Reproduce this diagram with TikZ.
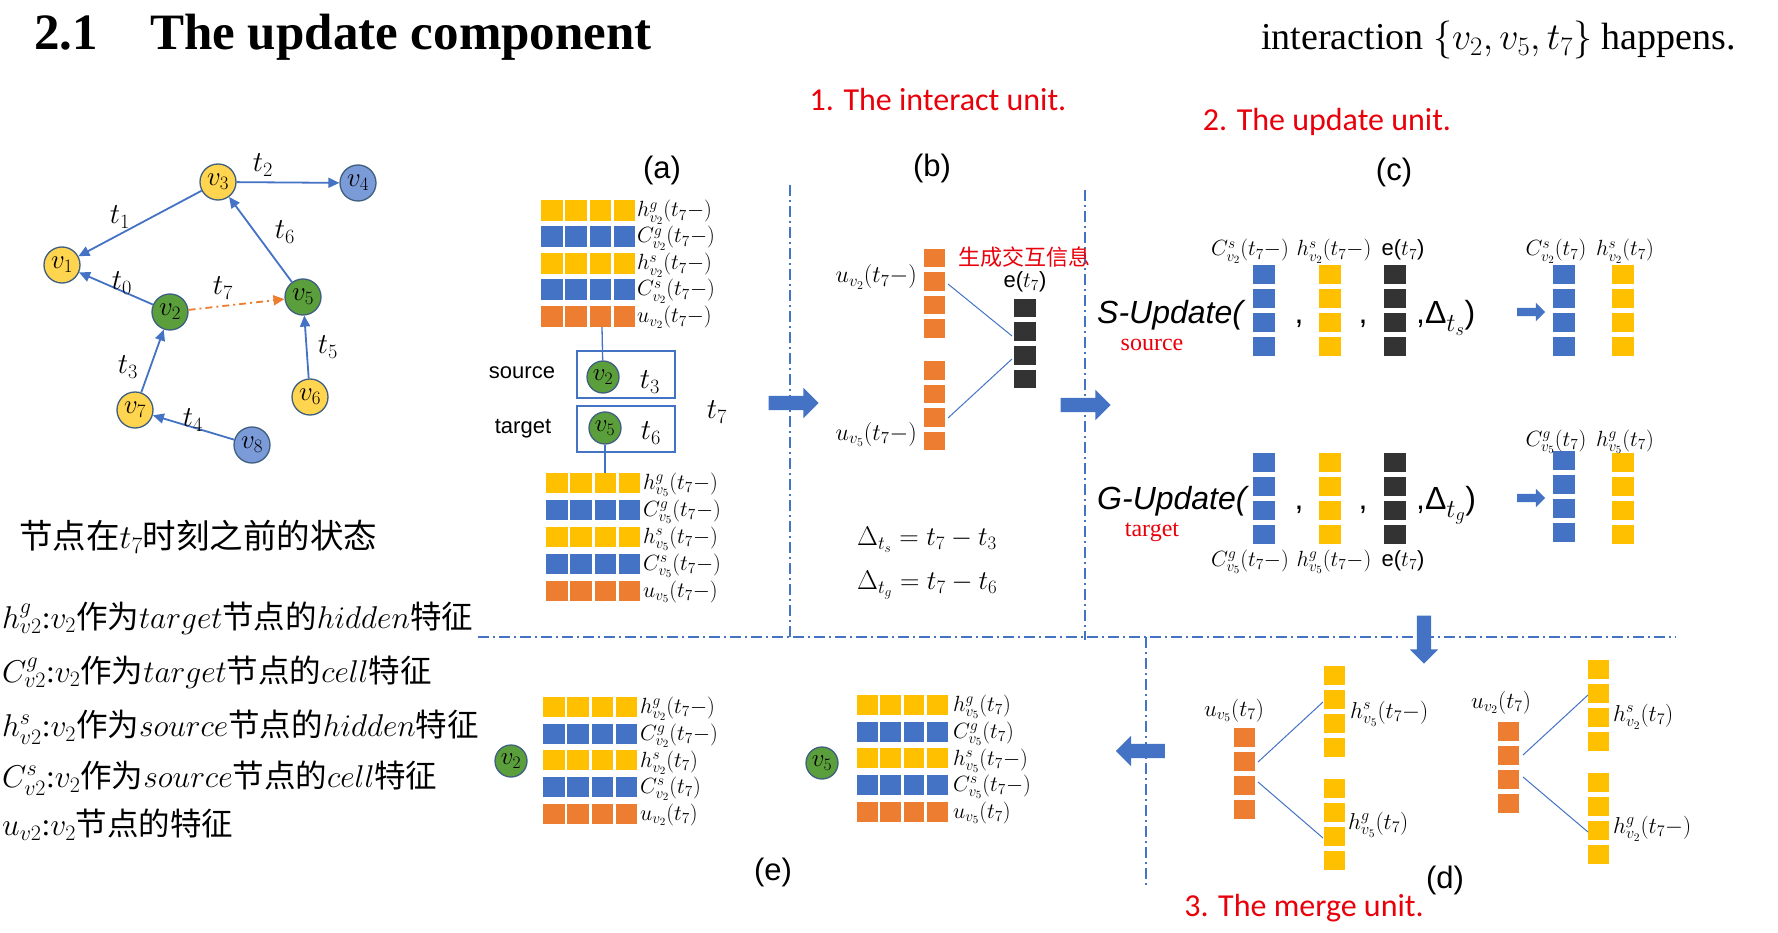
\RequirePackage{fix-cm}
\documentclass[tikz,border=0pt]{standalone}
\usepackage{fontspec}
\setmainfont{Liberation Serif}
\setsansfont{Liberation Sans}
\newfontfamily\cjk{Noto Sans CJK SC}
\newfontfamily\calibri{Carlito}
\usetikzlibrary{arrows.meta,shapes.arrows}
\newcommand\setfs[1]{\fontsize{#1}{#1}\selectfont}
\definecolor{sqy}{HTML}{FFC000}
\definecolor{sqb}{HTML}{4472C4}
\definecolor{sqo}{HTML}{ED7D31}
\definecolor{sqk}{HTML}{333333}
\definecolor{ny}{HTML}{FFD44F}
\definecolor{nb}{HTML}{7A9AD8}
\definecolor{ng}{HTML}{5B9E3C}
\definecolor{nline}{HTML}{3F5F80}
\definecolor{eblue}{HTML}{4472C4}
\definecolor{redtxt}{HTML}{E8000B}
% row of 4 squares: x0, y0, colour, pitch, height
\newcommand\sqrow[5]{\foreach \k in {0,...,3}{\fill[#3] ({#1+\k*#4},{#2}) rectangle ++({#4-2.8},#5);}}
% column of boxes: x, y, colour, n, width, height (pitch = height+5)
\newcommand\sqcol[6]{\foreach \k in {1,...,#4}{\fill[#3] ({#1},{#2+(\k-1)*(#6+5)}) rectangle ++(#5,#6);}}
\tikzset{
 gnode/.style={circle, draw=nline, line width=1.3pt, minimum size=36pt, inner sep=0pt, font=\setfs{27}},
 ynode/.style={gnode, fill=ny},
 bnode/.style={gnode, fill=nb},
 grnode/.style={gnode, fill=ng},
 smallgr/.style={gnode, fill=ng, minimum size=32pt, font=\setfs{25}},
 gedge/.style={draw=eblue, line width=1.8pt, -{Triangle[length=11pt,width=10pt]}},
 tedge/.style={draw=sqo, line width=1.8pt, dash pattern=on 7pt off 4pt on 2pt off 4pt, -{Triangle[length=11pt,width=10pt]}},
 tlab/.style={font=\setfs{29}, inner sep=0pt},
 lab/.style={font=\setfs{22}, inner sep=0pt, anchor=base west},
 clab/.style={font=\setfs{22}, inner sep=0pt, anchor=base},
 divider/.style={draw=eblue, line width=1.3pt, dash pattern=on 11pt off 4pt on 2pt off 4pt},
 link/.style={draw=eblue, line width=1.3pt},
 barrow/.style={single arrow, fill=eblue, draw=none, inner xsep=0pt, inner ysep=7pt, single arrow head extend=8pt, single arrow head indent=0pt, minimum height=50pt},
 varrow/.style={single arrow, fill=eblue, draw=none, inner xsep=7pt, inner ysep=0pt, single arrow head extend=7pt, single arrow head indent=0pt, shape border rotate=270, minimum height=48pt},
 sarrow/.style={barrow, inner ysep=4pt, single arrow head extend=5pt, minimum height=28pt},
 redhead/.style={font=\calibri\setfs{32}, text=redtxt, inner sep=0pt},
 panel/.style={font=\sffamily\setfs{31}, inner sep=0pt},
 sans/.style={font=\sffamily\setfs{22}, inner sep=0pt},
 desc/.style={font=\setfs{31.5}, inner sep=0pt, anchor=west},
 upd/.style={font=\sffamily\itshape\setfs{32}, inner sep=0pt, anchor=base west},
 comma/.style={font=\sffamily\setfs{32}, inner sep=0pt, anchor=base},
 redser/.style={font=\setfs{24}, text=redtxt, inner sep=0pt},
}
\begin{document}
\begin{tikzpicture}[x=1pt,y=-1pt]
\useasboundingbox (0,0) rectangle (1778,933);
\fill[white] (0,0) rectangle (1778,933);

% ---------- title ----------
\node[anchor=base west, font=\bfseries\setfs{51}, inner sep=0pt] (secnum) at (34,50) {2.1};
\node[anchor=base west, font=\bfseries\setfs{51}, inner sep=0pt] (title) at (150,50) {The update component};
\node[anchor=base west, font=\setfs{38}, inner sep=0pt] (interaction) at (1261,50) {interaction $\{v_2, v_5, t_7\}$ happens.};

% ---------- graph ----------
\node[ynode] (v3) at (218,182) {$v_3$};
\node[bnode] (v4) at (358,183) {$v_4$};
\node[ynode] (v1) at (62,265) {$v_1$};
\node[grnode] (v2) at (170,312) {$v_2$};
\node[grnode] (v5) at (303,297) {$v_5$};
\node[ynode] (v6) at (310,397) {$v_6$};
\node[ynode] (v7) at (135,410) {$v_7$};
\node[bnode] (v8) at (252,445) {$v_8$};
\draw[gedge] (v3) -- (v1);
\draw[gedge] (v3) -- (v4);
\draw[gedge] (v2) -- (v1);
\draw[gedge] (v5) -- (v3);
\draw[gedge] (v6) -- (v5);
\draw[gedge] (v7) -- (v2);
\draw[gedge] (v8) -- (v7);
\draw[tedge] (v2) -- (v5);
\node[tlab] (lt2) at (263,165) {$t_2$};
\node[tlab] (lt1) at (120,217) {$t_1$};
\node[tlab] (lt6) at (285,232) {$t_6$};
\node[tlab] (lt0) at (122,283) {$t_0$};
\node[tlab] (lt7) at (223,288) {$t_7$};
\node[tlab] (lt5) at (328,347) {$t_5$};
\node[tlab] (lt3) at (128,367) {$t_3$};
\node[tlab] (lt4) at (193,420) {$t_4$};

% ---------- left description ----------
\node[font=\cjk\setfs{33.5}, anchor=west, inner sep=0pt] (state) at (19,537) {节点在$t_7$时刻之前的状态};
\node[desc] (d1) at (2,618) {$h^g_{v2}$:$v_2${\cjk 作为}$target${\cjk 节点的}$hidden${\cjk 特征}};
\node[desc] (d2) at (2,672) {$C^g_{v2}$:$v_2${\cjk 作为}$target${\cjk 节点的}$cell${\cjk 特征}};
\node[desc] (d3) at (2,727) {$h^s_{v2}$:$v_2${\cjk 作为}$source${\cjk 节点的}$hidden${\cjk 特征}};
\node[desc] (d4) at (2,778) {$C^s_{v2}$:$v_2${\cjk 作为}$source${\cjk 节点的}$cell${\cjk 特征}};
\node[desc] (d5) at (2,825) {$u_{v2}$:$v_2${\cjk 节点的特征}};

% ---------- dividers ----------
\coordinate (dv1a) at (790,185); \coordinate (dv1b) at (790,637);
\coordinate (dv2a) at (1085,190); \coordinate (dv2b) at (1085,640);
\coordinate (dha) at (478,637); \coordinate (dhb) at (1676,637);
\coordinate (dv3a) at (1146,637); \coordinate (dv3b) at (1146,887);
\draw[divider] (dv1a) -- (dv1b);
\draw[divider] (dv2a) -- (dv2b);
\draw[divider] (dha) -- (dhb);
\draw[divider] (dv3a) -- (dv3b);

% ---------- panel (a) ----------
\node[panel] (pa) at (662,170) {(a)};
\foreach \c [count=\r from 0] in {sqy,sqb,sqy,sqb,sqo}{\sqrow{541}{200+\r*26.5}{\c}{24.3}{21}}
\node[lab] (a1) at (637,217) {$h^g_{v_2}(t_7-)$};
\node[lab] (a2) at (637,243) {$C^g_{v_2}(t_7-)$};
\node[lab] (a3) at (637,270) {$h^s_{v_2}(t_7-)$};
\node[lab] (a4) at (637,296) {$C^s_{v_2}(t_7-)$};
\node[lab] (a5) at (637,323) {$u_{v_2}(t_7-)$};
\node[draw=eblue, line width=1.5pt, minimum width=98pt, minimum height=47pt, inner sep=0pt] (srcbox) at (626,374.5) {};
\node[draw=eblue, line width=1.5pt, minimum width=98pt, minimum height=46pt, inner sep=0pt] (tgtbox) at (626,429) {};
\node[smallgr] (sv2) at (603,377) {$v_2$};
\node[smallgr] (sv5) at (605,428) {$v_5$};
\node[tlab] (st3) at (650,382) {$t_3$};
\node[tlab] (st6) at (651,433) {$t_6$};
\node[tlab] (st7) at (717,412) {$t_7$};
\node[sans] (srcl) at (522,373) {source};
\node[sans] (tgtl) at (523,429) {target};
\coordinate (atop) at (602,327);
\coordinate (abot) at (605,473);
\draw[link] (atop) -- (sv2);
\draw[link] (sv5) -- (abot);
\foreach \c [count=\r from 0] in {sqy,sqb,sqy,sqb,sqo}{\sqrow{546}{473+\r*27}{\c}{24.3}{20}}
\node[lab] (b1) at (643,489) {$h^g_{v_5}(t_7-)$};
\node[lab] (b2) at (643,516) {$C^g_{v_5}(t_7-)$};
\node[lab] (b3) at (643,543) {$h^s_{v_5}(t_7-)$};
\node[lab] (b4) at (643,570) {$C^s_{v_5}(t_7-)$};
\node[lab] (b5) at (643,597) {$u_{v_5}(t_7-)$};

% ---------- arrows between panels ----------
\node[barrow] (arr1) at (790,403) {};
\node[barrow] (arr2) at (1082,405) {};
\node[varrow] (arr3) at (1424,636) {};
\node[barrow, shape border rotate=180, minimum height=49pt] (arr4) at (1144,751) {};

% ---------- panel (b) ----------
\node[redhead] (h1) at (938,100) {1. The interact unit.};
\node[panel] (pb) at (932,168) {(b)};
\sqcol{924}{249}{sqo}{4}{21}{18.5}
\sqcol{924}{361}{sqo}{4}{21}{18.5}
\sqcol{1014}{299}{sqk}{4}{22}{18.5}
\node[lab, font=\setfs{24}, anchor=base east] (bu2) at (917,283) {$u_{v_2}(t_7-)$};
\node[lab, font=\setfs{24}, anchor=base east] (bu5) at (917,440) {$u_{v_5}(t_7-)$};
\node[font=\cjk\setfs{22}, text=redtxt, anchor=west, inner sep=0pt] (gen) at (958,257) {生成交互信息};
\node[sans] (be) at (1025,282) {e($t_7$)};
\coordinate (bo1) at (948,284); \coordinate (bk1) at (1012,336);
\coordinate (bo2) at (948,418); \coordinate (bk2) at (1012,359);
\draw[link, line width=1pt] (bo1) -- (bk1);
\draw[link, line width=1pt] (bo2) -- (bk2);
\node[font=\setfs{27}, anchor=west, inner sep=0pt] (dts) at (857,540) {$\Delta_{t_s}=t_7-t_3$};
\node[font=\setfs{27}, anchor=west, inner sep=0pt] (dtg) at (857,585) {$\Delta_{t_g}=t_7-t_6$};

% ---------- panel (c) ----------
\node[redhead] (h2) at (1327,122) {2. The update unit.};
\node[panel] (pc) at (1394,172) {(c)};
% S-Update
\node[upd] (supd) at (1097,324) {S-Update(};
\sqcol{1253}{265}{sqb}{4}{22}{19}
\sqcol{1319}{265}{sqy}{4}{22}{19}
\sqcol{1384}{265}{sqk}{4}{22}{19}
\node[comma] (sc1) at (1299,324) {,};
\node[comma] (sc2) at (1363,324) {,};
\node[upd, font=\sffamily\setfs{32}] (sdel) at (1416,324) {,Δ\raisebox{-8pt}{\setfs{26}$t_s$})};
\node[sarrow] (sarr1) at (1529,312) {};
\sqcol{1553}{265}{sqb}{4}{22}{19}
\sqcol{1612}{265}{sqy}{4}{22}{19}
\node[clab] (sl1) at (1250,256) {$C^s_{v_2}(t_7-)$};
\node[clab] (sl2) at (1334,256) {$h^s_{v_2}(t_7-)$};
\node[clab, font=\sffamily\setfs{22}] (sl3) at (1403,256) {e($t_7$)};
\node[clab] (sl4) at (1556,256) {$C^s_{v_2}(t_7)$};
\node[clab] (sl5) at (1625,256) {$h^s_{v_2}(t_7)$};
\node[redser] (srcred) at (1152,345) {source};
% G-Update
\node[upd] (gupd) at (1097,509) {G-Update(};
\sqcol{1253}{453}{sqb}{4}{22}{19}
\sqcol{1319}{453}{sqy}{4}{22}{19}
\sqcol{1384}{453}{sqk}{4}{22}{19}
\node[comma] (gc1) at (1299,509) {,};
\node[comma] (gc2) at (1363,509) {,};
\node[upd, font=\sffamily\setfs{32}] (gdel) at (1416,509) {,Δ\raisebox{-8pt}{\setfs{26}$t_g$})};
\node[sarrow] (sarr2) at (1529,498) {};
\sqcol{1553}{451}{sqb}{4}{22}{19}
\sqcol{1612}{453}{sqy}{4}{22}{19}
\node[clab] (gl1) at (1250,566) {$C^g_{v_5}(t_7-)$};
\node[clab] (gl2) at (1334,566) {$h^g_{v_5}(t_7-)$};
\node[clab, font=\sffamily\setfs{22}] (gl3) at (1403,566) {e($t_7$)};
\node[clab] (gl4) at (1556,446) {$C^g_{v_5}(t_7)$};
\node[clab] (gl5) at (1625,446) {$h^g_{v_5}(t_7)$};
\node[redser] (tgtred) at (1152,532) {target};

% ---------- panel (d) ----------
\sqcol{1234}{728}{sqo}{4}{21}{19}
\sqcol{1324}{666}{sqy}{4}{21}{19}
\sqcol{1324}{779}{sqy}{4}{21}{19}
\sqcol{1498}{722}{sqo}{4}{21}{19}
\sqcol{1588}{660}{sqy}{4}{21}{19}
\sqcol{1588}{773}{sqy}{4}{21}{19}
\coordinate (do1) at (1258,762); \coordinate (dy1) at (1323,702);
\coordinate (do2) at (1258,782); \coordinate (dy2) at (1323,838);
\coordinate (do3) at (1523,755); \coordinate (dy3) at (1588,695);
\coordinate (do4) at (1523,777); \coordinate (dy4) at (1588,832);
\draw[link, line width=1pt] (do1) -- (dy1);
\draw[link, line width=1pt] (do2) -- (dy2);
\draw[link, line width=1pt] (do3) -- (dy3);
\draw[link, line width=1pt] (do4) -- (dy4);
\node[clab, font=\setfs{23}] (du5) at (1234,716) {$u_{v_5}(t_7)$};
\node[lab, font=\setfs{23}] (dh5s) at (1350,718) {$h^s_{v_5}(t_7-)$};
\node[lab, font=\setfs{23}] (dh5g) at (1348,829) {$h^g_{v_5}(t_7)$};
\node[clab, font=\setfs{23}] (du2) at (1501,708) {$u_{v_2}(t_7)$};
\node[lab, font=\setfs{23}] (dh2s) at (1613,721) {$h^s_{v_2}(t_7)$};
\node[lab, font=\setfs{23}] (dh2g) at (1613,833) {$h^g_{v_2}(t_7-)$};
\node[panel] (pd) at (1445,880) {(d)};
\node[redhead] (h3) at (1304,908) {3. The merge unit.};

% ---------- panel (e) ----------
\node[smallgr] (ev2) at (511,761) {$v_2$};
\node[smallgr] (ev5) at (822,763) {$v_5$};
\foreach \c [count=\r from 0] in {sqy,sqb,sqy,sqb,sqo}{\sqrow{543}{697+\r*26.7}{\c}{24.3}{20}}
\node[lab] (e1) at (640,713) {$h^g_{v_2}(t_7-)$};
\node[lab] (e2) at (640,740) {$C^g_{v_2}(t_7-)$};
\node[lab] (e3) at (640,767) {$h^s_{v_2}(t_7)$};
\node[lab] (e4) at (640,793) {$C^s_{v_2}(t_7)$};
\node[lab] (e5) at (640,820) {$u_{v_2}(t_7)$};
\foreach \c [count=\r from 0] in {sqy,sqb,sqy,sqb,sqo}{\sqrow{857}{695+\r*26.7}{\c}{23.4}{20}}
\node[lab] (f1) at (953,711) {$h^g_{v_5}(t_7)$};
\node[lab] (f2) at (953,738) {$C^g_{v_5}(t_7)$};
\node[lab] (f3) at (953,765) {$h^s_{v_5}(t_7-)$};
\node[lab] (f4) at (953,791) {$C^s_{v_5}(t_7-)$};
\node[lab] (f5) at (953,818) {$u_{v_5}(t_7)$};
\node[panel] (pe) at (773,872) {(e)};
\end{tikzpicture}
\end{document}
